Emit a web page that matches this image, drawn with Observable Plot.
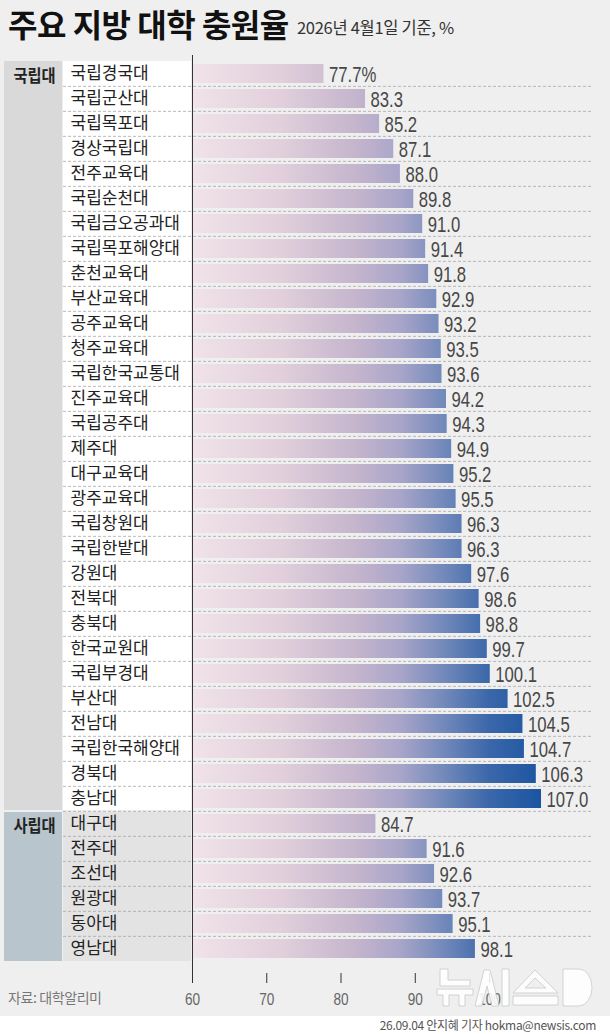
<!DOCTYPE html>
<html><head><meta charset="utf-8">
<script src="https://cdn.jsdelivr.net/npm/d3@7"></script>
<script src="https://cdn.jsdelivr.net/npm/@observablehq/plot@0.6"></script>
<style>
body{margin:0;background:#fff;font-family:"Noto Sans CJK KR","Noto Sans",sans-serif;}
#wrap{width:610px;background:#efefef;position:relative;}
#title{height:50px;position:relative;}
#title .t{position:absolute;left:8px;top:4px;font-size:32px;line-height:1.2;font-weight:700;color:#111;white-space:nowrap;letter-spacing:-0.5px;}
#title .s{position:absolute;left:297px;top:18px;font-size:16.5px;line-height:1.2;color:#333;white-space:nowrap;letter-spacing:-0.3px;}
#chart svg{display:block;}
#source{position:absolute;left:8px;top:989px;font-size:14px;line-height:1.2;color:#777;white-space:nowrap;letter-spacing:-0.4px;}
#logo{position:absolute;left:430px;top:963px;opacity:0.88;}
#credit{width:596px;height:18px;line-height:18px;text-align:right;font-size:12px;color:#555;white-space:nowrap;letter-spacing:-0.3px;}
</style></head><body>
<div id="wrap">
  <div id="title"><span class="t">주요 지방 대학 충원율</span><span class="s">2026년 4월1일 기준, %</span></div>
  <div id="chart"></div>
  <div id="source">자료: 대학알리미</div>
  <svg id="logo" width="170" height="48" viewBox="0 0 170 48">
    <g fill="#fff" stroke="#c4c4c4" stroke-width="0.8">
      <path d="M10 6h8v11h22v6h-30z"/>
      <path d="M7 26h36v6h-8v11h-6v-11h-10v11h-6v-11h-6z"/>
      <path d="M45 43L54 7h6l9 36h-7l-5-20l-5 20z"/>
      <path d="M72 6h7v37h-7z"/>
      <path fill-rule="evenodd" d="M83 30L105 7L128 30z M95 25L105 15L116 25z"/>
      <path d="M83 33h45v9h-45z"/>
      <path d="M133 6h16a13 18.5 0 0 1 0 37h-16z"/>
    </g>
  </svg>
</div>
<div id="credit">26.09.04 안지혜 기자 hokma@newsis.com</div>
<script>
const nationalNames = ["국립경국대","국립군산대","국립목포대","경상국립대","전주교육대","국립순천대","국립금오공과대","국립목포해양대","춘천교육대","부산교육대","공주교육대","청주교육대","국립한국교통대","진주교육대","국립공주대","제주대","대구교육대","광주교육대","국립창원대","국립한밭대","강원대","전북대","충북대","한국교원대","국립부경대","부산대","전남대","국립한국해양대","경북대","충남대"];
const nationalValues = [77.7,83.3,85.2,87.1,88.0,89.8,91.0,91.4,91.8,92.9,93.2,93.5,93.6,94.2,94.3,94.9,95.2,95.5,96.3,96.3,97.6,98.6,98.8,99.7,100.1,102.5,104.5,104.7,106.3,107.0];
const privateNames = ["대구대","전주대","조선대","원광대","동아대","영남대"];
const privateValues = [84.7,91.6,92.6,93.7,95.1,98.1];
const groups = ["국립대","사립대"];
const xTicks = [60,70,80,90,100];
const gradValues = [60,72,82,88,94,100,107];
const gradColors = ["#f1e3e9","#e1cfdb","#c5b5cd","#a9a5c9","#7189ba","#3b67aa","#1a55a0"];

const rows = [
  ...nationalNames.map((n,i)=>({name:n,value:nationalValues[i],group:groups[0]})),
  ...privateNames.map((n,i)=>({name:n,value:privateValues[i],group:groups[1]}))
];
const names = rows.map(d=>d.name);
const yRange = [5.4, 915.6];
const step = (yRange[1]-yRange[0])/names.length;
const numFont = "'Liberation Sans',Arial,sans-serif";

const chart = Plot.plot({
  width:610, height:966,
  marginLeft:63, marginRight:18, marginTop:5, marginBottom:43,
  style:{background:"transparent", fontFamily:"'Noto Sans CJK KR',sans-serif"},
  x:{domain:[60,107], range:[192,541]},
  y:{domain:names, range:yRange, paddingInner:0.25, paddingOuter:0.125, axis:null},
  marks:[
    Plot.ruleY(names.slice(1), {y:d=>d, dy:-step/2, stroke:"#a8a8a8", strokeWidth:0.8, strokeDasharray:"3,2"}),
    Plot.barX(rows, {x1:60, x2:"value", y:"name", fill:"url(#barGrad)"}),
    Plot.ruleX([100], {stroke:"#fff", strokeWidth:2, y1:names[0], y2:names[names.length-1], insetTop:-14, insetBottom:-14}),
    Plot.ruleX([60], {stroke:"#333", strokeWidth:1}),
    Plot.text(rows, {className:"vals", x:"value", y:"name", text:(d,i)=> i===0 ? d.value.toFixed(1)+"%" : d.value.toFixed(1), dx:5, dy:1, textAnchor:"start", fontSize:22, fill:"#474747", fontFamily:numFont}),
    Plot.text(rows, {className:"names", frameAnchor:"left", y:"name", text:"name", dx:7, dy:0, textAnchor:"start", fontSize:17, fill:"#222"}),
    Plot.text(groups.map((g,i)=>({g, first: i===0 ? nationalNames[0] : privateNames[0]})), {className:"groups", frameAnchor:"left", y:"first", text:"g", dx:-29, dy:3, textAnchor:"middle", fontSize:17, fontWeight:"bold", fill:"#222"}),
    Plot.axisX({ticks:xTicks, tickSize:10, tickPadding:9, stroke:"#333", fill:"#666", fontSize:17, fontFamily:numFont, label:null, tickFormat:d=>String(d)})
  ]
});

const svg = d3.select(chart);
// condense number glyphs horizontally (the reference uses a condensed typeface)
function condense(sel, s){ sel.each(function(){ const t=d3.select(this); t.attr("transform",(t.attr("transform")||"")+` scale(${s},1)`); }); }
condense(svg.selectAll("g.vals text"), 0.76);
condense(svg.selectAll("g.groups text"), 0.9);
condense(svg.selectAll('g[aria-label="x-axis tick label"] text'), 0.8);

// background panels and gradient, positioned from the chart's own scales
const ys = chart.scale("y"), xs = chart.scale("x");
const gap = (ys.step - ys.bandwidth)/2;
const slotStart = n => ys.apply(n) - gap;
const slotEnd = n => ys.apply(n) + ys.bandwidth + gap;
const defs = svg.insert("defs", ":first-child");
const grad = defs.append("linearGradient").attr("id","barGrad").attr("gradientUnits","userSpaceOnUse")
  .attr("x1", xs.apply(60)).attr("x2", xs.apply(107)).attr("y1",0).attr("y2",0);
gradValues.forEach((v,i)=>grad.append("stop").attr("offset",(v-60)/47).attr("stop-color",gradColors[i]));
const bg = svg.insert("g", "defs + *");
const panels = [
  {y0:slotStart(nationalNames[0]), y1:slotEnd(nationalNames[nationalNames.length-1])-1, gc:"#d9d9d9", lc:"#ffffff"},
  {y0:slotStart(privateNames[0])+1, y1:slotEnd(privateNames[privateNames.length-1]), gc:"#b9c5cc", lc:"#e3e3e3"}
];
panels.forEach(p=>{
  bg.append("rect").attr("x",4).attr("width",58).attr("y",p.y0).attr("height",p.y1-p.y0).attr("fill",p.gc);
  bg.append("rect").attr("x",63).attr("width",xs.apply(60)-63-1).attr("y",p.y0).attr("height",p.y1-p.y0).attr("fill",p.lc);
});
document.getElementById("chart").appendChild(chart);
</script>
</body></html>
